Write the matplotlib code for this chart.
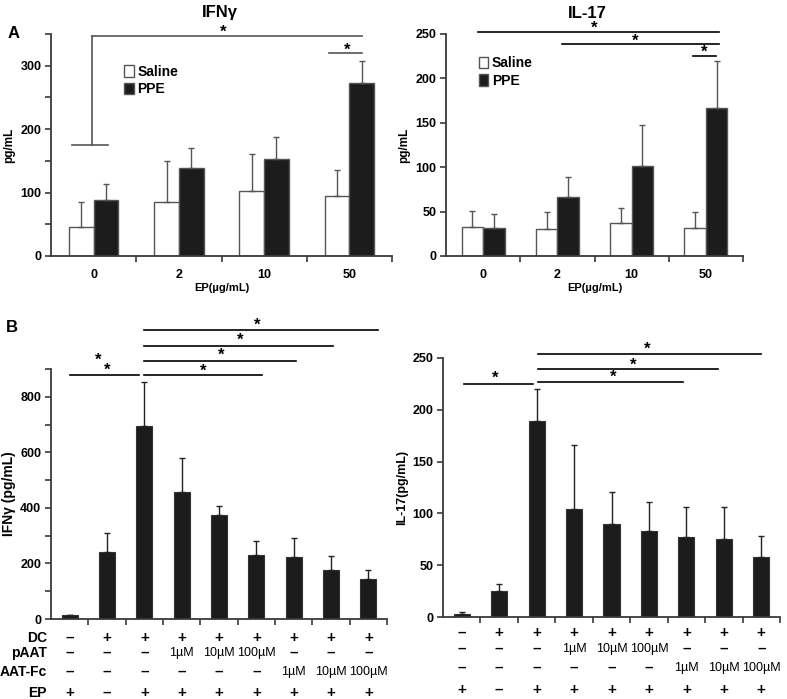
import numpy as np
import matplotlib.pyplot as plt

plt.rcParams['font.family'] = ['Liberation Sans', 'DejaVu Sans']
plt.rcParams['font.weight'] = 'bold'

# Panel A: cytokines vs EP dose
doses = ['0', '2', '10', '50']
ifng_saline = [46, 85, 102, 95]
ifng_saline_err = [39, 65, 59, 40]
ifng_ppe = [89, 138, 153, 273]
ifng_ppe_err = [24, 33, 35, 35]
il17_saline = [33, 30, 37, 32]
il17_saline_err = [18, 19, 17, 18]
il17_ppe = [31, 67, 101, 167]
il17_ppe_err = [16, 22, 47, 53]

# Panel B: treatment conditions
ifng_b = [14, 241, 694, 456, 376, 232, 224, 175, 145]
ifng_b_err = [0, 70, 161, 125, 32, 48, 66, 52, 31]
il17_b = [3, 25, 189, 104, 90, 83, 77, 75, 58]
il17_b_err = [2, 7, 31, 62, 31, 28, 29, 31, 20]

row_names = ['DC', 'pAAT', 'AAT-Fc', 'EP']
row_dc = ['–', '+', '+', '+', '+', '+', '+', '+', '+']
row_paat = ['–', '–', '–', '1µM', '10µM', '100µM', '–', '–', '–']
row_aatfc = ['–', '–', '–', '–', '–', '–', '1µM', '10µM', '100µM']
row_ep = ['+', '–', '+', '+', '+', '+', '+', '+', '+']
rows = [row_dc, row_paat, row_aatfc, row_ep]

W, H = 787, 699
fig = plt.figure(figsize=(W / 100, H / 100), dpi=100)


def px_axes(x0, y0, x1, y1):
    return fig.add_axes([x0 / W, 1 - y1 / H, (x1 - x0) / W, (y1 - y0) / H])


def style(ax, ngroups, ymax, major, minor, edge='#3a3a3a'):
    for s in ['top', 'right']:
        ax.spines[s].set_visible(False)
    for s in ['left', 'bottom']:
        ax.spines[s].set_color(edge)
        ax.spines[s].set_linewidth(1.3)
    ax.set_xlim(-0.5, ngroups - 0.5)
    ax.set_ylim(0, ymax)
    ax.set_yticks(np.arange(0, ymax + 1, major))
    if minor:
        ax.set_yticks(np.arange(minor, ymax + 1, major), minor=True)
    ax.set_xticks(np.arange(ngroups) + 0.5)
    ax.set_xticklabels([])
    ax.tick_params(axis='both', which='both', direction='out', length=4, width=1.2,
                   color=edge, labelsize=9)
    ax.tick_params(axis='y', pad=3)


def star(ax, xs, ys):
    ax.text(xs, ys, '*', ha='center', va='center', fontsize=12, fontweight='bold', clip_on=False)


def sig(ax, x1, x2, y, xs, ys, color='black'):
    ax.plot([x1, x2], [y, y], color=color, lw=1.2, clip_on=False)
    star(ax, xs, ys)


# ---------------- Panel A ----------------
w = 0.29
xa = np.arange(len(doses))

for (x0, x1), name, sal, sal_e, ppe, ppe_e, ymax, major, minor in [
        ((51, 392), 'IFNγ', ifng_saline, ifng_saline_err, ifng_ppe, ifng_ppe_err, 350, 100, 50),
        ((446, 743), 'IL-17', il17_saline, il17_saline_err, il17_ppe, il17_ppe_err, 250, 50, None)]:
    ax = px_axes(x0, 34, x1, 256)
    style(ax, 4, ymax, major, minor)
    ax.bar(xa - w / 2, sal, w, color='white', edgecolor='#555555', lw=1, label='Saline')
    ax.bar(xa + w / 2, ppe, w, color='#1c1c1c', edgecolor='#555555', lw=1, label='PPE')
    ax.errorbar(xa - w / 2, sal, yerr=[np.zeros(4), sal_e], fmt='none', ecolor='#555555',
                elinewidth=1, capsize=2, capthick=1)
    ax.errorbar(xa + w / 2, ppe, yerr=[np.zeros(4), ppe_e], fmt='none', ecolor='#555555',
                elinewidth=1, capsize=2, capthick=1)
    ax.set_xticks(xa, minor=True)
    ax.set_xticklabels(doses, minor=True)
    ax.tick_params(axis='x', which='minor', length=0, pad=9, labelsize=9)
    ax.set_xlabel('EP(µg/mL)', fontsize=8, fontweight='bold', labelpad=2)
    ax.set_ylabel('pg/mL', fontsize=8.5, fontweight='bold', labelpad=4)
    if name == 'IFNγ':
        fig.text(220 / W, 1 - 13 / H, name, ha='center', va='center', fontsize=12, fontweight='bold')
        leg_anchor = (0.215, 0.862)
        g = '#555555'
        ax.plot([-0.02, 3.15], [347, 347], color=g, lw=1.2, clip_on=False)
        ax.plot([-0.02, -0.02], [347, 175], color=g, lw=1.2, clip_on=False)
        ax.plot([-0.25, 0.17], [175, 175], color=g, lw=1.2, clip_on=False)
        star(ax, 1.52, 352)
        sig(ax, 2.76, 3.15, 320, 2.98, 325, g)
    else:
        fig.text(587 / W, 1 - 13 / H, name, ha='center', va='center', fontsize=12, fontweight='bold')
        leg_anchor = (0.11, 0.9)
        sig(ax, -0.07, 3.18, 252.5, 1.5, 256)
        sig(ax, 1.06, 3.18, 239, 2.05, 242)
        sig(ax, 2.82, 3.14, 225, 2.98, 229)
    ax.legend(loc='upper left', bbox_to_anchor=leg_anchor, frameon=False, handlelength=0.7,
              handleheight=0.9, handletextpad=0.25, labelspacing=0.25, borderaxespad=0,
              borderpad=0, prop={'weight': 'bold', 'size': 10})

fig.text(8 / W, 1 - 33 / H, 'A', fontsize=12, fontweight='bold', va='center')
fig.text(6 / W, 1 - 327 / H, 'B', fontsize=12, fontweight='bold', va='center')

# ---------------- Panel B ----------------
xb = np.arange(9)
bw = 0.43


def table(ax, row_y, labels):
    for k, (r, yy) in enumerate(zip(rows, row_y)):
        if labels:
            ax.text(-0.012, yy, row_names[k], transform=ax.transAxes, ha='right', va='center',
                    fontsize=10, fontweight='bold')
        for i, lab in enumerate(r):
            big = lab in ('+', '–')
            ax.text(i, yy, lab, transform=ax.get_xaxis_transform(), ha='center', va='center',
                    fontsize=11 if big else 9, fontweight='bold' if big else 'normal')


# left: IFNγ
ax = px_axes(51, 369, 387, 619)
style(ax, 9, 900, 200, 100)
ax.bar(xb, ifng_b, bw, color='#1c1c1c', edgecolor='#333333', lw=0.8)
ax.errorbar(xb, ifng_b, yerr=[np.zeros(9), ifng_b_err], fmt='none', ecolor='#222222',
            elinewidth=1, capsize=2, capthick=1)
ax.set_ylabel('IFNγ (pg/mL)', fontsize=10, fontweight='bold', labelpad=3)
sig(ax, 0.0, 1.87, 879, 1.0, 895)
star(ax, 0.76, 932)
sig(ax, 2.0, 5.15, 879, 3.58, 892)
sig(ax, 2.0, 6.07, 930, 4.06, 950)
sig(ax, 2.0, 7.06, 984, 4.57, 1004)
sig(ax, 2.0, 8.27, 1041, 5.03, 1058)
table(ax, [-0.076, -0.136, -0.212, -0.296], True)

# right: IL-17
ax = px_axes(443, 358, 780, 617)
style(ax, 9, 250, 50, None)
ax.bar(xb, il17_b, bw, color='#1c1c1c', edgecolor='#333333', lw=0.8)
ax.errorbar(xb, il17_b, yerr=[np.zeros(9), il17_b_err], fmt='none', ecolor='#222222',
            elinewidth=1, capsize=2, capthick=1)
ax.set_ylabel('IL-17(pg/mL)', fontsize=9, fontweight='bold', labelpad=3)
sig(ax, 0.06, 1.9, 225, 0.89, 230)
sig(ax, 2.04, 5.9, 227, 4.05, 231)
sig(ax, 2.04, 6.85, 239, 4.58, 243)
sig(ax, 2.04, 7.98, 254, 4.96, 258)
table(ax, [-0.062, -0.124, -0.197, -0.282], False)

fig.savefig('out.png', dpi=100)
